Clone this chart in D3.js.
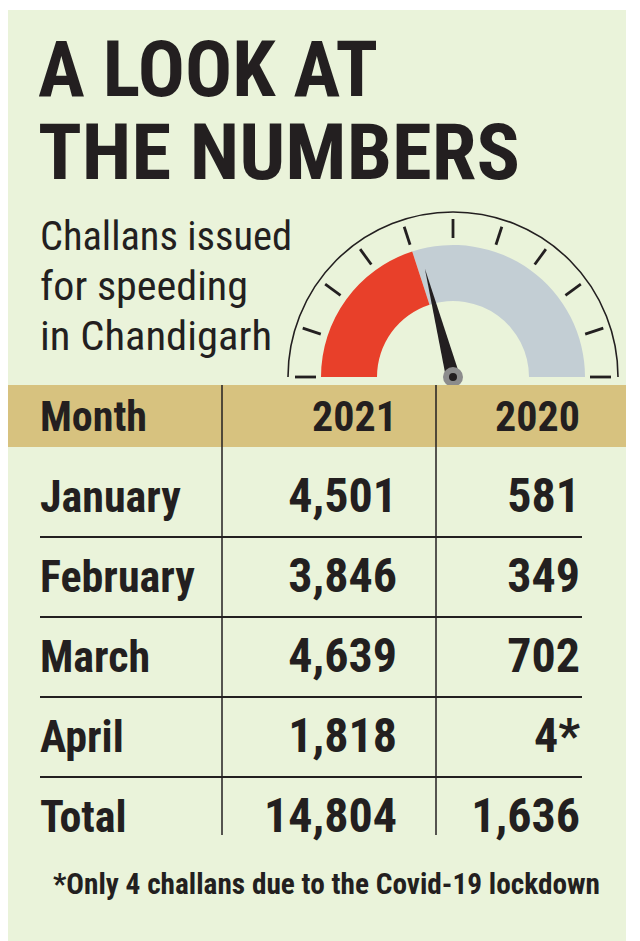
<!DOCTYPE html>
<html><head><meta charset="utf-8">
<script src="https://cdn.jsdelivr.net/npm/d3@7"></script>
<style>body{margin:0;background:#fff}text{font-family:"Liberation Sans Narrow","Roboto Condensed","DejaVu Sans Condensed",sans-serif}</style>
</head><body>
<svg id="c" width="640" height="941"></svg>
<script>
const titleLines = ["A LOOK AT", "THE NUMBERS"];
const subtitleLines = ["Challans issued", "for speeding", "in Chandigarh"];
const headers = ["Month", "2021", "2020"];
const months = ["January", "February", "March", "April", "Total"];
const values2021 = ["4,501", "3,846", "4,639", "1,818", "14,804"];
const values2020 = ["581", "349", "702", "4*", "1,636"];
const gaugeShare = [0.4];
const footnote = "*Only 4 challans due to the Covid-19 lockdown";

const svg = d3.select("#c");
svg.append("rect").attr("x",8).attr("y",10).attr("width",618).attr("height",931).attr("fill","#eaf3da");

// title
const tw=[340,482];
titleLines.forEach((t,i)=>svg.append("text").text(t).attr("x",38).attr("y",96+i*83)
  .attr("font-size",78).attr("font-weight","bold").attr("fill","#231f20")
  .attr("textLength",tw[i]).attr("lengthAdjust","spacingAndGlyphs"));
const sw=[252,208,232];
subtitleLines.forEach((t,i)=>svg.append("text").text(t).attr("x",40).attr("y",250+i*50)
  .attr("font-size",40).attr("fill","#231f20")
  .attr("textLength",sw[i]).attr("lengthAdjust","spacingAndGlyphs"));

// gauge
const cx=453, cy=377;
const g=svg.append("g").attr("transform",`translate(${cx},${cy})`);
const ang=d3.scaleLinear().domain([0,1]).range([-Math.PI/2,Math.PI/2]);
const arc=d3.arc().innerRadius(76).outerRadius(132);
g.append("path").attr("d",arc({startAngle:ang(gaugeShare[0]),endAngle:ang(1)})).attr("fill","#c3ced4");
g.append("path").attr("d",arc({startAngle:ang(0),endAngle:ang(gaugeShare[0])})).attr("fill","#e8402a");
g.append("path").attr("d",d3.arc().innerRadius(165).outerRadius(165)({startAngle:ang(0),endAngle:ang(1)}))
  .attr("fill","none").attr("stroke","#231f20").attr("stroke-width",1.6);
d3.range(11).forEach(i=>{
  const a=ang(i/10); const r1=(i==0||i==10)?137:139, r2=158;
  g.append("line").attr("x1",r1*Math.sin(a)).attr("y1",-r1*Math.cos(a))
   .attr("x2",r2*Math.sin(a)).attr("y2",-r2*Math.cos(a)).attr("stroke","#231f20").attr("stroke-width",2.8);
});
{
  const a=ang(gaugeShare[0])+0.06, L=112, w=7;
  const tip=[L*Math.sin(a),-L*Math.cos(a)];
  const px=Math.cos(a)*w, py=Math.sin(a)*w;
  g.append("path").attr("d",`M${tip[0]},${tip[1]}L${px},${py}L${-px},${-py}Z`).attr("fill","#231f20");
  g.append("circle").attr("r",10).attr("fill","#8c8c8c");
  g.append("circle").attr("r",4).attr("fill","#231f20");
}

// table
const colX=[40,397,580];
svg.append("rect").attr("x",8).attr("y",385).attr("width",618).attr("height",62).attr("fill","#d7c27f");
const rowY=d3.scaleLinear().domain([0,1]).range([512,592]);
[222,436].forEach(x=>svg.append("line").attr("x1",x).attr("x2",x).attr("y1",385).attr("y2",835)
  .attr("stroke","#231f20").attr("stroke-width",1.5));
months.slice(0,-1).forEach((m,i)=>svg.append("line").attr("x1",40).attr("x2",582)
  .attr("y1",rowY(i)+25).attr("y2",rowY(i)+25).attr("stroke","#231f20").attr("stroke-width",2));
headers.forEach((h,i)=>svg.append("text").text(h).attr("x",colX[i]).attr("y",431)
  .attr("text-anchor",i?"end":"start").attr("font-size",42).attr("font-weight","bold").attr("fill","#231f20"));
months.forEach((m,i)=>{
  const y=rowY(i);
  svg.append("text").text(m).attr("x",40).attr("y",y).attr("font-size",44).attr("font-weight","bold").attr("fill","#231f20");
  svg.append("text").text(values2021[i]).attr("x",colX[1]).attr("y",y).attr("text-anchor","end")
    .attr("font-size",48).attr("font-weight","bold").attr("fill","#231f20");
  svg.append("text").text(values2020[i]).attr("x",colX[2]).attr("y",y).attr("text-anchor","end")
    .attr("font-size",48).attr("font-weight","bold").attr("fill","#231f20");
});
svg.append("text").text(footnote).attr("x",53).attr("y",894).attr("font-size",30).attr("font-weight","bold")
  .attr("fill","#231f20").attr("textLength",547).attr("lengthAdjust","spacingAndGlyphs");
</script>
</body></html>
